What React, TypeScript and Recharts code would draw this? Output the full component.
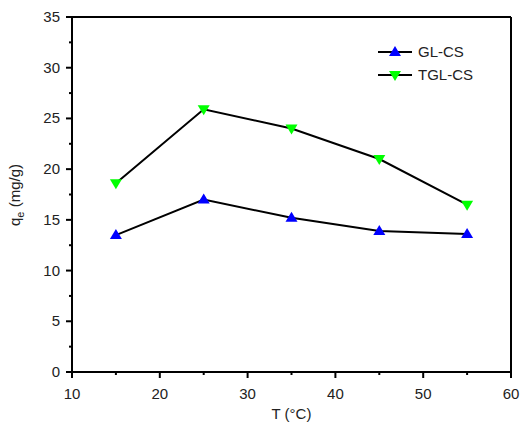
import { LineChart, Line, XAxis, YAxis, Legend, ReferenceLine } from 'recharts'

const temps = [15, 25, 35, 45, 55]
const glcs = [13.5, 17.0, 15.2, 13.9, 13.6]
const tglcs = [18.6, 25.9, 24.0, 21.0, 16.5]
const xTicks = [10, 15, 20, 25, 30, 35, 40, 45, 50, 55, 60]
const yTicks = [0, 2.5, 5, 7.5, 10, 12.5, 15, 17.5, 20, 22.5, 25, 27.5, 30, 32.5, 35]

const data = temps.map((t, i) => ({ t, gl: glcs[i], tgl: tglcs[i] }))

const font = 'Liberation Sans, Arial, sans-serif'

const UpTri = (props: any) => {
  const { cx, cy } = props
  if (cx == null || cy == null) return null
  return <path d={`M${cx},${cy - 6} L${cx + 6},${cy + 4} L${cx - 6},${cy + 4} Z`} fill="#0000ff" />
}

const DownTri = (props: any) => {
  const { cx, cy } = props
  if (cx == null || cy == null) return null
  return <path d={`M${cx},${cy + 6} L${cx + 6},${cy - 4} L${cx - 6},${cy - 4} Z`} fill="#00ff00" />
}

const XTick = (props: any) => {
  const { x, y, payload } = props
  const major = payload.value % 10 === 0
  return (
    <g>
      <line x1={x} x2={x} y1={y - 8} y2={y - 8 + (major ? 6 : 3)} stroke="#000" strokeWidth={2} />
      {major && (
        <text x={x} y={y + 19} textAnchor="middle" fontSize={15} fill="#222" fontFamily={font}>
          {payload.value}
        </text>
      )}
    </g>
  )
}

const YTick = (props: any) => {
  const { x, y, payload } = props
  const major = payload.value % 5 === 0
  return (
    <g>
      <line x1={x + 8} x2={x + 8 - (major ? 6 : 3)} y1={y} y2={y} stroke="#000" strokeWidth={2} />
      {major && (
        <text x={x - 4} y={y + 5} textAnchor="end" fontSize={15} fill="#222" fontFamily={font}>
          {payload.value}
        </text>
      )}
    </g>
  )
}

const LegendBox = () => (
  <svg width={140} height={50} style={{ position: 'absolute', left: 374, top: 40 }}>
    <line x1={4} x2={38} y1={12} y2={12} stroke="#000" strokeWidth={2} />
    <UpTri cx={21} cy={12} />
    <text x={44} y={17} fontSize={15} fill="#222" fontFamily={font}>GL-CS</text>
    <line x1={4} x2={38} y1={35} y2={35} stroke="#000" strokeWidth={2} />
    <DownTri cx={21} cy={35} />
    <text x={44} y={40} fontSize={15} fill="#222" fontFamily={font}>TGL-CS</text>
  </svg>
)

export default function App() {
  return (
    <div style={{ position: 'absolute', left: 0, top: 0, width: 523, height: 423, background: '#fff' }}>
      <LineChart width={523} height={423} data={data} margin={{ top: 17, right: 12, left: 0, bottom: 0 }}>
        <XAxis
          dataKey="t"
          type="number"
          domain={[10, 60]}
          ticks={xTicks}
          interval={0}
          tickLine={false}
          tick={<XTick />}
          axisLine={{ stroke: '#000', strokeWidth: 2 }}
          height={51}
          label={{ value: 'T (°C)', position: 'insideBottom', offset: 4, fontSize: 15, fill: '#222', fontFamily: font }}
        />
        <YAxis
          type="number"
          domain={[0, 35]}
          ticks={yTicks}
          interval={0}
          tickLine={false}
          tick={<YTick />}
          axisLine={{ stroke: '#000', strokeWidth: 2 }}
          width={72}
          label={{
            content: () => (
              <text transform="translate(20,195) rotate(-90)" textAnchor="middle" fontSize={15} fill="#222" fontFamily={font}>
                q<tspan fontSize={11} dy={4}>e</tspan><tspan dy={-4}> (mg/g)</tspan>
              </text>
            ),
          }}
        />
        <ReferenceLine y={35} stroke="#000" strokeWidth={2} ifOverflow="visible" />
        <ReferenceLine x={60} stroke="#000" strokeWidth={2} ifOverflow="visible" />
        <Legend content={<LegendBox />} wrapperStyle={{ position: 'absolute', left: 0, top: 0, width: 0, height: 0 }} />
        <Line dataKey="gl" name="GL-CS" stroke="#000" strokeWidth={2} dot={<UpTri />} activeDot={false} isAnimationActive={false} />
        <Line dataKey="tgl" name="TGL-CS" stroke="#000" strokeWidth={2} dot={<DownTri />} activeDot={false} isAnimationActive={false} />
      </LineChart>
    </div>
  )
}
